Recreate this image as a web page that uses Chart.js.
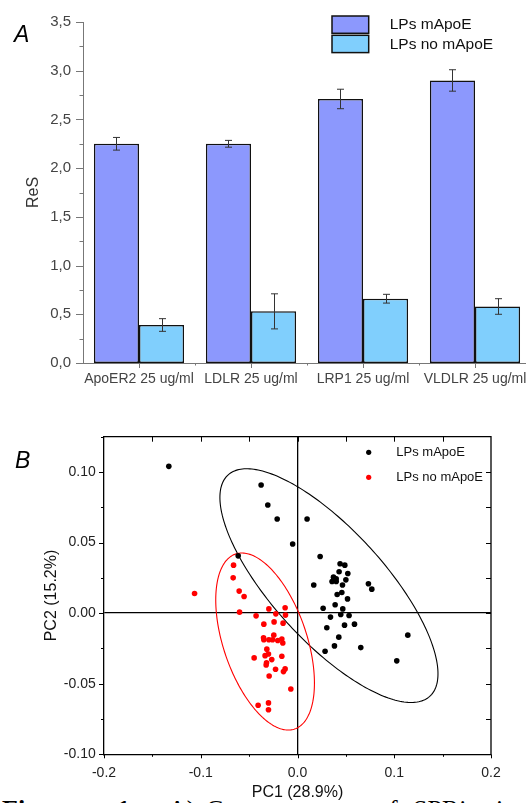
<!DOCTYPE html>
<html>
<head>
<meta charset="utf-8">
<script src="https://cdn.jsdelivr.net/npm/chart.js@4"></script>
<style>
  html, body { margin: 0; padding: 0; background: #fff; }
  body { width: 526px; height: 803px; overflow: hidden; position: relative; font-family: 'Liberation Sans', Arial, sans-serif; }
  #wrapA { position: absolute; left: 0; top: 0; }
  #wrapB { position: absolute; left: 0; top: 410px; z-index: 2; }
  .panel { position: absolute; font-style: italic; font-size: 23px; color: #000; z-index: 3; }
  .cap { position: absolute; top: 797px; font-family: 'Liberation Serif', 'Times New Roman', serif;
         font-size: 26px; line-height: 26px; white-space: nowrap; z-index: 1; }
</style>
</head>
<body>
<div class="panel" style="left:14px; top:21px;">A</div>
<div class="panel" style="left:15px; top:447px;">B</div>
<div id="wrapA"><canvas id="barChart" width="540" height="400"></canvas></div>
<div id="wrapB"><canvas id="pcaChart" width="526" height="393"></canvas></div>
<div class="cap" style="left:2px;"><b>Figure</b></div>
<div class="cap" style="left:117px;"><b>1:</b></div>
<div class="cap" style="left:168px;">A)</div>
<div class="cap" style="left:206px;">C</div>
<div class="cap" style="left:376px;">of</div>
<div class="cap" style="left:413px;">SPRi</div>
<div class="cap" style="left:496px;">in</div>
<script>
// Panel A: ReS values
const categorias = ['ApoER2 25 ug/ml', 'LDLR 25 ug/ml', 'LRP1 25 ug/ml', 'VLDLR 25 ug/ml'];
const resComApoE = [2.25, 2.25, 2.71, 2.90];
const erroComApoE = [0.065, 0.035, 0.10, 0.11];
const resSemApoE = [0.39, 0.53, 0.66, 0.58];
const erroSemApoE = [0.065, 0.18, 0.045, 0.08];

// Panel B: PCA scores
const pc1ComApoE = [-0.133, -0.0376, -0.0307, -0.021, 0.0099, -0.005, -0.0613, 0.0234, 0.044, 0.0489,
  0.043, 0.052, 0.0372, 0.040, 0.0357, 0.040, 0.050, 0.0168, 0.0465, 0.0733,
  0.0768, 0.0458, 0.041, 0.0517, 0.0389, 0.0265, 0.0468, 0.0447, 0.0533, 0.0341,
  0.0589, 0.0486, 0.0303, 0.0427, 0.0382, 0.0654, 0.0285, 0.114, 0.1026];
const pc2ComApoE = [0.104, 0.0908, 0.0766, 0.0667, 0.0667, 0.049, 0.0406, 0.0401, 0.035, 0.034,
  0.0293, 0.0281, 0.0255, 0.0243, 0.0224, 0.0224, 0.0236, 0.0199, 0.0199, 0.0208,
  0.017, 0.0146, 0.0132, 0.0101, 0.0059, 0.0035, 0.003, -0.001, -0.0017, -0.0028,
  -0.0078, -0.0085, -0.0104, -0.017, -0.0232, -0.0244, -0.027, -0.0156, -0.0338];
const pc1SemApoE = [-0.1064, -0.0661, -0.0665, -0.0603, -0.0552, -0.0599, -0.0428, -0.0296, -0.0128, -0.0124,
  -0.0224, -0.0242, -0.0149, -0.0348, -0.0245, -0.0351, -0.0348, -0.0296, -0.0258, -0.0204,
  -0.0162, -0.0152, -0.0317, -0.030, -0.0335, -0.0448, -0.0266, -0.0162, -0.032, -0.0324,
  -0.0227, -0.0128, -0.0145, -0.0293, -0.0069, -0.0407, -0.030, -0.030];
const pc2SemApoE = [0.0139, 0.034, 0.025, 0.0156, 0.0118, 0.0007, -0.0019, 0.003, 0.0038, -0.0014,
  -0.0005, -0.0062, -0.0071, -0.0078, -0.0156, -0.0175, -0.0189, -0.0189, -0.0189, -0.0194,
  -0.0184, -0.0211, -0.0255, -0.0289, -0.0301, -0.0317, -0.0329, -0.0305, -0.0352, -0.0367,
  -0.0397, -0.0395, -0.0414, -0.0445, -0.0537, -0.0652, -0.0636, -0.0684];

// Elipses de confiança (centro, desvios e correlação)
const elipseComApoE = { cx: 0.0325, cy: 0.0195, sx: 0.1127, sy: 0.0828, rho: -0.754 };
const elipseSemApoE = { cx: -0.0335, cy: -0.0201, sx: 0.051, sy: 0.0627, rho: -0.47 };

const rotulos = ['LPs mApoE', 'LPs no mApoE'];
const fonte = "'Liberation Sans', Arial, sans-serif";
Chart.defaults.font.family = fonte;

// Funções auxiliares
function desenharTick(ctx, scale, valor, comp, lado) {
    const a = scale.chart.chartArea;
    ctx.beginPath();
    if (lado === 'left' || lado === 'right') {
        const y = Math.round(scale.getPixelForValue(valor)) + 0.5;
        const x0 = lado === 'left' ? a.left : a.right;
        ctx.moveTo(x0, y);
        ctx.lineTo(x0 + comp, y);
    } else {
        const x = Math.round(scale.getPixelForValue(valor)) + 0.5;
        const y0 = lado === 'bottom' ? a.bottom : a.top;
        ctx.moveTo(x, y0);
        ctx.lineTo(x, y0 + comp);
    }
    ctx.stroke();
}

function passos(inicio, fim, passo) {
    const lista = [];
    for (let v = inicio; v <= fim + 1e-9; v += passo) lista.push(Math.round(v * 1000) / 1000);
    return lista;
}

// Plugin do painel A: barras de erro, ticks, legenda e título do eixo
const extrasBarras = {
    id: 'extrasBarras',
    afterDatasetsDraw(chart) {
        const ctx = chart.ctx;
        const yScale = chart.scales.y;
        const erros = [erroComApoE, erroSemApoE];
        ctx.save();
        ctx.strokeStyle = '#333';
        ctx.lineWidth = 1;
        chart.data.datasets.forEach((ds, i) => {
            chart.getDatasetMeta(i).data.forEach((bar, j) => {
                const x = Math.round(bar.x) + 0.5;
                const yTop = yScale.getPixelForValue(ds.data[j] + erros[i][j]);
                const yBot = yScale.getPixelForValue(ds.data[j] - erros[i][j]);
                ctx.beginPath();
                ctx.moveTo(x, yTop); ctx.lineTo(x, yBot);
                ctx.moveTo(x - 3.5, yTop); ctx.lineTo(x + 3.5, yTop);
                ctx.moveTo(x - 3.5, yBot); ctx.lineTo(x + 3.5, yBot);
                ctx.stroke();
            });
        });
        ctx.restore();
    },
    afterDraw(chart) {
        const ctx = chart.ctx;
        const a = chart.chartArea;
        const y = chart.scales.y, x = chart.scales.x;
        ctx.save();
        ctx.strokeStyle = '#777';
        ctx.lineWidth = 1;
        passos(0, 3.5, 0.5).forEach(v => desenharTick(ctx, y, v, -7, 'left'));
        passos(0.25, 3.25, 0.5).forEach(v => desenharTick(ctx, y, v, -3.5, 'left'));
        categorias.forEach((c, i) => {
            desenharTick(ctx, x, i, 5, 'bottom');
            desenharTick(ctx, x, i + 0.5, 2.5, 'bottom');
        });
        // título do eixo y
        ctx.fillStyle = '#333';
        ctx.font = '16px ' + fonte;
        ctx.textAlign = 'center';
        ctx.textBaseline = 'middle';
        ctx.translate(34, (a.top + a.bottom) / 2);
        ctx.rotate(-Math.PI / 2);
        ctx.fillText('ReS', 0, 0);
        ctx.restore();

        // legenda
        ctx.save();
        ctx.font = '15.5px ' + fonte;
        ctx.textBaseline = 'middle';
        chart.data.datasets.forEach((ds, i) => {
            const top = 16 + i * 19.3;
            ctx.fillStyle = ds.backgroundColor;
            ctx.fillRect(332, top, 36.7, 17.3);
            ctx.strokeStyle = '#111';
            ctx.lineWidth = 1.5;
            ctx.strokeRect(332, top, 36.7, 17.3);
            ctx.fillStyle = '#111';
            ctx.fillText(ds.label, 389.7, top + 9);
        });
        ctx.restore();
    }
};

new Chart(document.getElementById('barChart'), {
    type: 'bar',
    data: {
        labels: categorias,
        datasets: [{
            label: rotulos[0],
            data: resComApoE,
            backgroundColor: '#8c98fd',
            borderColor: '#111',
            borderWidth: 1.5,
            borderSkipped: false
        }, {
            label: rotulos[1],
            data: resSemApoE,
            backgroundColor: '#80cffd',
            borderColor: '#111',
            borderWidth: 1.5,
            borderSkipped: false
        }]
    },
    options: {
        responsive: false,
        animation: false,
        layout: { padding: { left: 0, right: 9, top: 22, bottom: 0 } },
        plugins: { legend: { display: false }, tooltip: { enabled: false } },
        datasets: { bar: { categoryPercentage: 0.805, barPercentage: 1.0 } },
        scales: {
            x: {
                grid: { display: false, drawTicks: false },
                border: { color: '#777', width: 1 },
                ticks: { color: '#444', font: { size: 14 }, padding: 8, autoSkip: false, maxRotation: 0 },
                afterFit: s => { s.height = 37; }
            },
            y: {
                min: 0,
                max: 3.5,
                grid: { display: false, drawTicks: false },
                border: { color: '#777', width: 1 },
                ticks: {
                    stepSize: 0.5,
                    color: '#444',
                    font: { size: 15 },
                    padding: 12,
                    callback: v => v.toFixed(1).replace('.', ',')
                },
                afterFit: s => { s.width = 83; }
            }
        }
    },
    plugins: [extrasBarras]
});

// Plugin do painel B: elipses, moldura, ticks, legenda e títulos
const extrasPCA = {
    id: 'extrasPCA',
    beforeDatasetsDraw(chart) {
        const ctx = chart.ctx;
        const a = chart.chartArea;
        const xs = chart.scales.x, ys = chart.scales.y;
        ctx.save();
        ctx.beginPath();
        ctx.rect(a.left, a.top, a.right - a.left, a.bottom - a.top);
        ctx.clip();
        [[elipseComApoE, '#000'], [elipseSemApoE, '#ff0000']].forEach(([e, cor]) => {
            const k = Math.sqrt(1 - e.rho * e.rho);
            ctx.beginPath();
            for (let i = 0; i <= 240; i++) {
                const t = i / 240 * Math.PI * 2;
                const vx = e.cx + e.sx * Math.cos(t);
                const vy = e.cy + e.sy * (e.rho * Math.cos(t) + k * Math.sin(t));
                const px = xs.getPixelForValue(vx), py = ys.getPixelForValue(vy);
                if (i === 0) ctx.moveTo(px, py); else ctx.lineTo(px, py);
            }
            ctx.strokeStyle = cor;
            ctx.lineWidth = 1.1;
            ctx.stroke();
        });
        ctx.restore();
    },
    afterDraw(chart) {
        const ctx = chart.ctx;
        const a = chart.chartArea;
        const xs = chart.scales.x, ys = chart.scales.y;
        ctx.save();
        ctx.strokeStyle = '#000';
        ctx.lineWidth = 1.3;
        ctx.beginPath();
        ctx.moveTo(a.left, a.top); ctx.lineTo(a.right, a.top); ctx.lineTo(a.right, a.bottom);
        ctx.stroke();
        ctx.lineWidth = 1;
        passos(-0.1, 0.1, 0.05).forEach(v => desenharTick(ctx, ys, v, -5, 'left'));
        passos(-0.075, 0.125, 0.05).forEach(v => desenharTick(ctx, ys, v, -3, 'left'));
        passos(-0.2, 0.2, 0.1).forEach(v => desenharTick(ctx, xs, v, 4, 'bottom'));
        passos(-0.15, 0.15, 0.1).forEach(v => desenharTick(ctx, xs, v, 2.5, 'bottom'));
        passos(-0.15, 0.15, 0.05).forEach(v => desenharTick(ctx, xs, v, 5, 'top'));
        passos(-0.075, 0.1, 0.025).forEach(v => desenharTick(ctx, ys, v, -5, 'right'));

        // títulos dos eixos
        ctx.font = '16px ' + fonte;
        ctx.textAlign = 'center';
        ctx.textBaseline = 'middle';
        const tx = (a.left + a.right) / 2;
        ctx.fillStyle = '#111';
        ctx.fillText('PC1 (28.9%)', tx, 383);
        ctx.save();
        ctx.translate(52, (a.top + a.bottom) / 2);
        ctx.rotate(-Math.PI / 2);
        ctx.fillText('PC2 (15.2%)', 0, 0);
        ctx.restore();

        // legenda
        ctx.font = '13px ' + fonte;
        ctx.textAlign = 'left';
        chart.data.datasets.forEach((ds, i) => {
            const yy = 42.3 + i * 25;
            ctx.fillStyle = ds.backgroundColor;
            ctx.beginPath();
            ctx.arc(368.7, yy, 2.6, 0, Math.PI * 2);
            ctx.fill();
            ctx.fillStyle = '#111';
            ctx.fillText(ds.label, 396.3, yy);
        });
        ctx.restore();
    }
};

const pontos = (xs, ys) => xs.map((v, i) => ({ x: v, y: ys[i] }));

new Chart(document.getElementById('pcaChart'), {
    type: 'scatter',
    data: {
        datasets: [{
            label: rotulos[0],
            data: pontos(pc1ComApoE, pc2ComApoE),
            backgroundColor: '#000',
            pointRadius: 2.8,
            pointBorderWidth: 0
        }, {
            label: rotulos[1],
            data: pontos(pc1SemApoE, pc2SemApoE),
            backgroundColor: '#ff0000',
            pointRadius: 2.8,
            pointBorderWidth: 0
        }]
    },
    options: {
        responsive: false,
        animation: false,
        layout: { padding: { left: 0, right: 35, top: 26.7, bottom: 0 } },
        plugins: { legend: { display: false }, tooltip: { enabled: false } },
        scales: {
            x: {
                type: 'linear',
                min: -0.2,
                max: 0.2,
                grid: {
                    drawTicks: false,
                    color: c => (c.tick && c.tick.value === 0 ? '#000' : 'rgba(0,0,0,0)'),
                    lineWidth: 1.3
                },
                border: { color: '#000', width: 1.3 },
                ticks: { stepSize: 0.1, color: '#222', font: { size: 14 }, padding: 10, includeBounds: false,
                         callback: v => v.toFixed(1) },
                afterFit: s => { s.height = 48.7; }
            },
            y: {
                type: 'linear',
                min: -0.1,
                max: 0.125,
                grid: {
                    drawTicks: false,
                    color: c => (c.tick && Math.abs(c.tick.value) < 1e-9 ? '#000' : 'rgba(0,0,0,0)'),
                    lineWidth: 1.3
                },
                border: { color: '#000', width: 1.3 },
                ticks: { stepSize: 0.05, color: '#222', font: { size: 14 }, padding: 8.3, includeBounds: false,
                         callback: v => v.toFixed(2) },
                afterFit: s => { s.width = 104; }
            }
        }
    },
    plugins: [extrasPCA]
});
</script>
</body>
</html>
